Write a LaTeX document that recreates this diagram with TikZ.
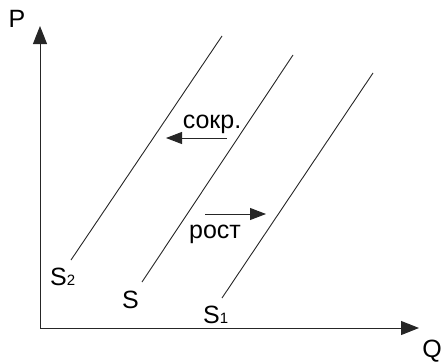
\documentclass[tikz,border=0pt]{standalone}
\usepackage{fontspec}
\setmainfont{Liberation Sans}
\usetikzlibrary{arrows.meta}
\begin{document}
\begin{tikzpicture}[x=1pt,y=-1pt,
  lbl/.style={inner sep=0pt,anchor=base,font=\fontsize{25}{30}\selectfont},
  axis/.style={line width=1pt,color=black!85,-{Triangle[length=18pt,width=14pt]}},
  curve/.style={line width=0.9pt,color=black!85},
  shift arrow/.style={line width=0.9pt,color=black!85,-{Triangle[length=16pt,width=12pt]}}]
\useasboundingbox (0,0) rectangle (443,361);
\coordinate (O) at (40,328);
\coordinate (Ptip) at (40,26);
\coordinate (Qtip) at (419,328);
\draw[axis] (O) -- (Ptip);
\draw[axis] (O) -- (Qtip);
\node[lbl] (P) at (17,28) {P};
\node[lbl] (Q) at (432,357) {Q};
% supply curves
\coordinate (s2a) at (71,260);
\coordinate (s2b) at (222,36);
\coordinate (sa) at (142,282);
\coordinate (sb) at (293,55);
\coordinate (s1a) at (222,298);
\coordinate (s1b) at (373,73);
\draw[curve] (s2a) -- (s2b);
\draw[curve] (sa) -- (sb);
\draw[curve] (s1a) -- (s1b);
\node[lbl,anchor=base west] (S2) at (50,285) {S{\fontsize{15}{15}\selectfont 2}};
\node[lbl,anchor=base west] (S) at (122,308) {S};
\node[lbl,anchor=base west] (S1) at (203,323) {S{\fontsize{15}{15}\selectfont 1}};
% shifts
\coordinate (c1) at (227,138);
\coordinate (c2) at (166,138);
\draw[shift arrow] (c1) -- (c2);
\node[lbl] (sokr) at (212,128) {сокр.};
\coordinate (r1) at (205,214);
\coordinate (r2) at (266,214);
\draw[shift arrow] (r1) -- (r2);
\node[lbl] (rost) at (215,238) {рост};
\end{tikzpicture}
\end{document}
